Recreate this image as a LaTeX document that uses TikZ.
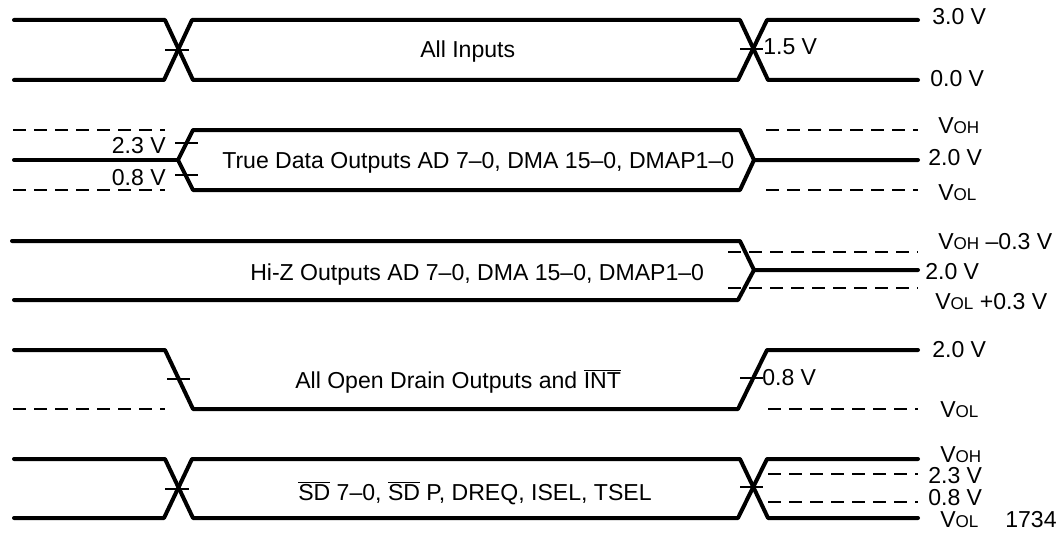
\documentclass[tikz,border=0pt]{standalone}
\usepackage{fontspec}
\setmainfont{Liberation Sans}
\newcommand\lsub[1]{\raisebox{-0.6pt}{\fontsize{12.8}{13}\selectfont #1}}
\newcommand\ovl[1]{$\overline{\mbox{#1}}$}
\begin{document}
\begin{tikzpicture}[x=0.75pt,y=-0.75pt,
  sig/.style={line width=3pt,line cap=round,line join=round},
  dsh/.style={line width=1.5pt,dash pattern=on 9.75pt off 6pt},
  tck/.style={line width=1.5pt},
  lbl/.style={anchor=base west,inner sep=0pt,font=\fontsize{17.3}{18}\selectfont},
  lbr/.style={anchor=base east,inner sep=0pt,font=\fontsize{17.3}{18}\selectfont}]
\useasboundingbox (0,0) rectangle (1060,535);
% Row 1: All Inputs
\draw[sig] (14,20) -- (165,20) -- (193,80) -- (738,80) -- (767,20) -- (918,20);
\draw[sig] (14,80) -- (164,80) -- (192,20) -- (740,20) -- (768,80) -- (918,80);
\draw[tck] (165,50) -- (189,50);
\draw[tck] (740,49) -- (763,49);
\node[lbl] (t1) at (420,58) {All Inputs};
\node[lbl] (r1a) at (932,25) {3.0 V};
\node[lbl] (r1b) at (763,55) {1.5 V};
\node[lbl] (r1c) at (930,87) {0.0 V};
% Row 2: True Data Outputs
\draw[sig] (14,160) -- (178,160);
\draw[sig] (178,160) -- (193,130) -- (740,130) -- (754,160) -- (918,160);
\draw[sig] (178,160) -- (193,190) -- (740,190) -- (754,160);
\draw[dsh] (13,130) -- (165,130);
\draw[dsh] (13,190) -- (165,190);
\draw[dsh] (766,130) -- (918,130);
\draw[dsh] (766,190) -- (918,190);
\draw[tck] (175,143) -- (198,143);
\draw[tck] (175,175) -- (198,175);
\node[lbl] (t2) at (222,168) {True Data Outputs AD 7–0, DMA 15–0, DMAP1–0};
\node[lbr] (l2a) at (166,153) {2.3 V};
\node[lbr] (l2b) at (166,185) {0.8 V};
\node[lbl] (r2a) at (938,133) {V\lsub{OH}};
\node[lbl] (r2b) at (928,165) {2.0 V};
\node[lbl] (r2c) at (938,200) {V\lsub{OL}};
% Row 3: Hi-Z Outputs
\draw[sig] (12,241) -- (740,241) -- (754,270) -- (918,270);
\draw[sig] (14,300) -- (738,300) -- (754,270);
\draw[dsh] (728,252) -- (918,252);
\draw[dsh] (728,288) -- (918,288);
\node[lbl] (t3) at (250,280) {Hi-Z Outputs AD 7–0, DMA 15–0, DMAP1–0};
\node[lbl] (r3a) at (938,249) {V\lsub{OH} –0.3 V};
\node[lbl] (r3b) at (925,279) {2.0 V};
\node[lbl] (r3c) at (935,309) {V\lsub{OL} +0.3 V};
% Row 4: Open Drain
\draw[sig] (14,350) -- (165,350) -- (193,409) -- (738,409) -- (767,350) -- (918,350);
\draw[dsh] (13,409) -- (165,409);
\draw[dsh] (768,409) -- (918,409);
\draw[tck] (167,379) -- (190,379);
\draw[tck] (740,378) -- (763,378);
\node[lbl] (t4) at (295,388) {All Open Drain Outputs and \ovl{INT}};
\node[lbl] (r4a) at (932,357) {2.0 V};
\node[lbl] (r4b) at (762,385) {0.8 V};
\node[lbl] (r4c) at (940,417) {V\lsub{OL}};
% Row 5: SD etc.
\draw[sig] (14,459) -- (165,459) -- (193,518) -- (738,518) -- (767,459) -- (918,459);
\draw[sig] (14,518) -- (164,518) -- (192,459) -- (740,459) -- (768,518) -- (918,518);
\draw[tck] (165,489) -- (189,489);
\draw[tck] (740,487) -- (763,487);
\draw[dsh] (768,474) -- (918,474);
\draw[dsh] (768,502) -- (918,502);
\node[lbl] (t5) at (298,500) {\ovl{SD} 7–0, \ovl{SD} P, DREQ, ISEL, TSEL};
\node[lbl] (r5a) at (940,462) {V\lsub{OH}};
\node[lbl] (r5b) at (928,483) {2.3 V};
\node[lbl] (r5c) at (928,505) {0.8 V};
\node[lbl] (r5d) at (940,527) {V\lsub{OL}};
\node[lbl] (fig) at (1005,527) {1734};
\end{tikzpicture}
\end{document}
